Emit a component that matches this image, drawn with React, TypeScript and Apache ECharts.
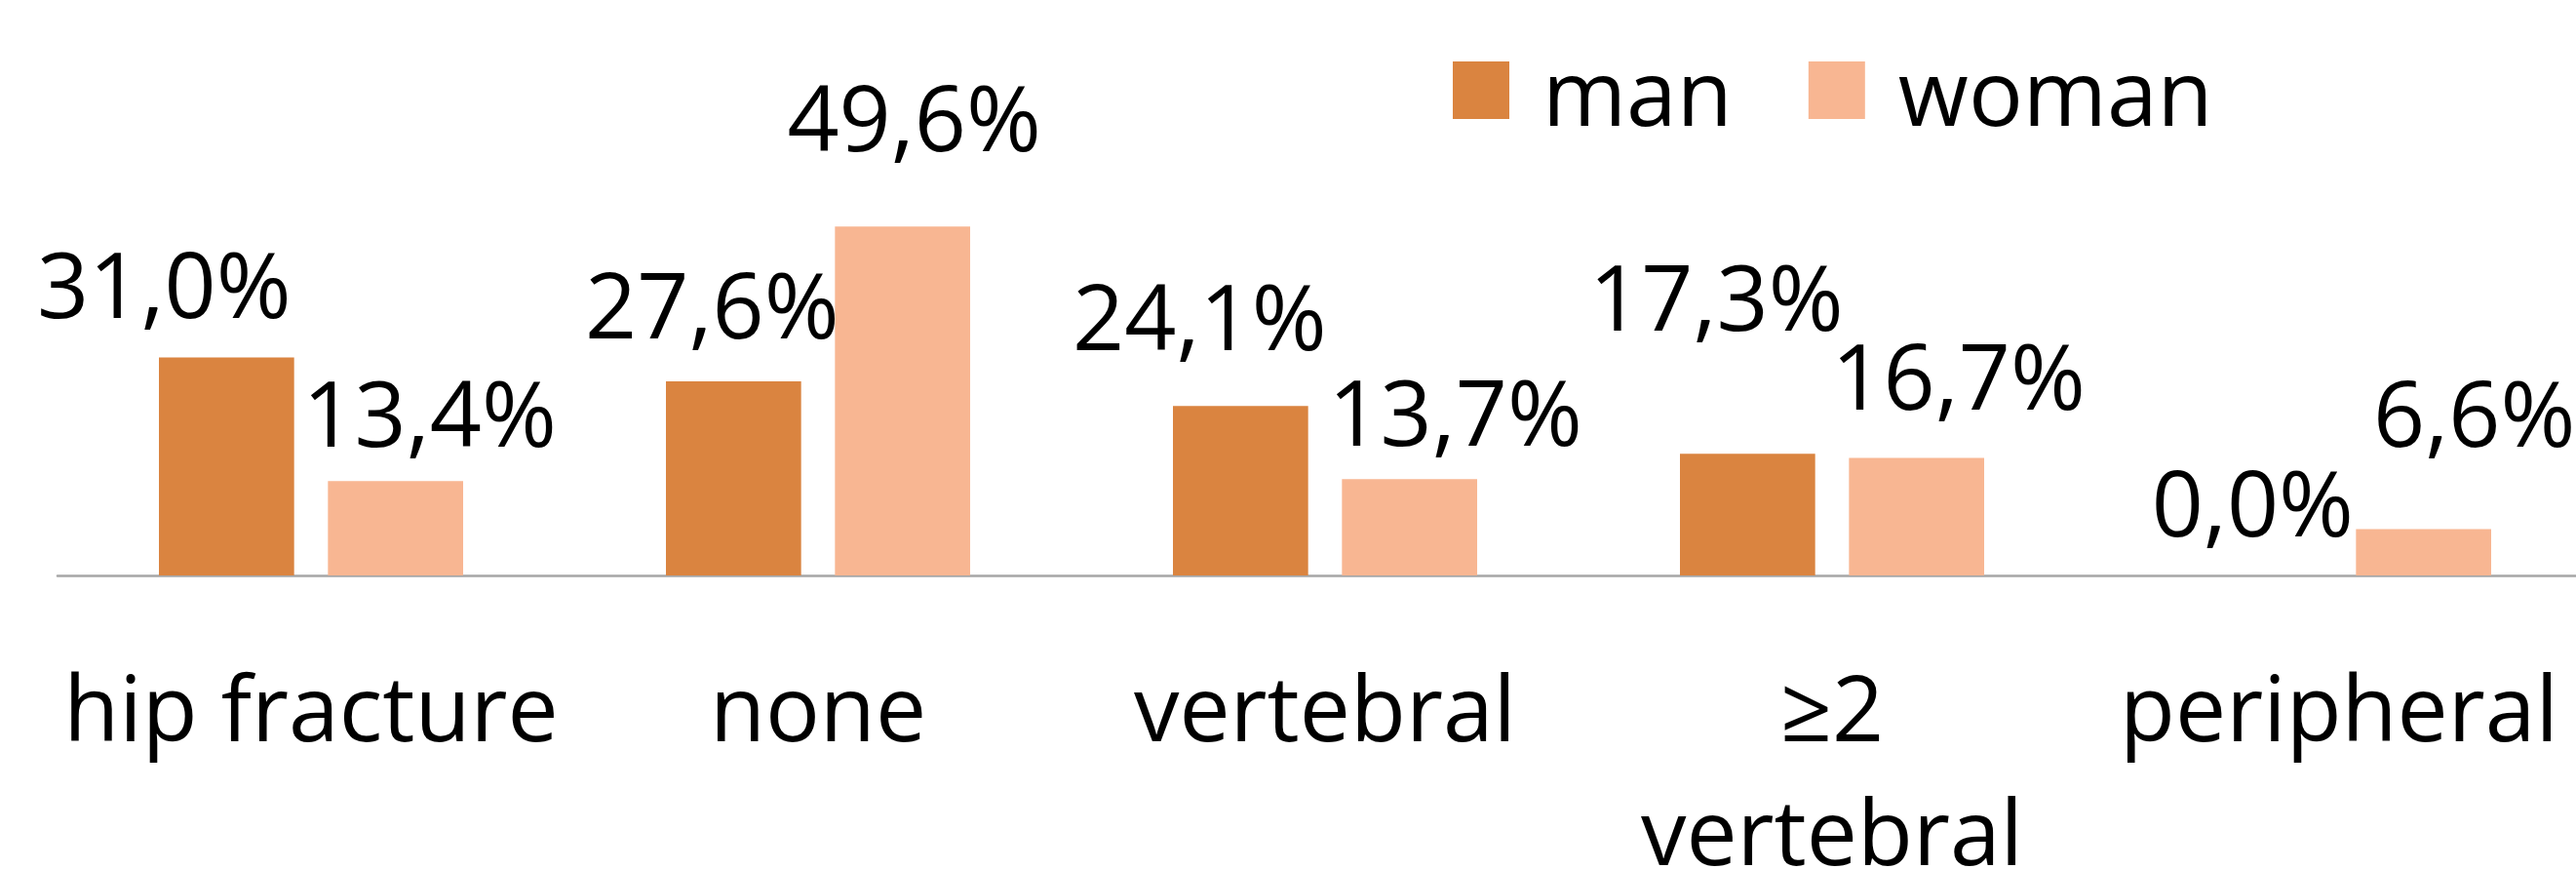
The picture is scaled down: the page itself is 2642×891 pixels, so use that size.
import React, { useEffect, useRef } from "react";
import * as echarts from "echarts";

const categories = ["hip fracture", "none", "vertebral", "≥2\nvertebral", "peripheral"];
const seriesNames = ["man", "woman"];
const manValues = [31.0, 27.6, 24.1, 17.3, 0.0];
const womanValues = [13.4, 49.6, 13.7, 16.7, 6.6];

// label placement tweaks (style only)
const manLabelOffsets = [[-64, -30], [-22, -33], [-42, -47], [-32, -116], [-2, -30]];
const womanLabelOffsets = [[35, -25], [12, -67], [47, -24], [43, -39], [52, -74]];

const FONT = "Open Sans";
const FS = 93;

const fmt = (v: number) => v.toFixed(1).replace(".", ",") + "%";

export default function App() {
  const ref = useRef<HTMLDivElement>(null);
  useEffect(() => {
    if (!ref.current) return;
    document.body.style.margin = "0";
    const chart = echarts.init(ref.current, null, { renderer: "svg" });
    const mk = (vals: number[], offs: number[][]) =>
      vals.map((v, i) => ({
        value: v,
        label: { offset: offs[i] },
      }));
    const labelCfg = {
      show: true,
      position: "top",
      distance: 0,
      fontFamily: FONT,
      fontSize: FS,
      color: "#000",
      formatter: (p: any) => fmt(p.value),
    };
    chart.setOption({
      animation: false,
      backgroundColor: "#fff",
      legend: {
        left: 1485,
        top: 41,
        itemWidth: 58,
        itemHeight: 59,
        itemGap: 78,
        icon: "rect",
        data: seriesNames,
        textStyle: { fontFamily: FONT, fontSize: FS, color: "#000", padding: [0, 0, 0, 29] },
      },
      grid: {
        left: 59,
        width: 2600,
        top: 13,
        bottom: 301,
        containLabel: false,
        outerBoundsMode: "none",
      },
      xAxis: {
        type: "category",
        data: categories,
        axisTick: { show: false },
        axisLine: { lineStyle: { color: "#a6a6a6", width: 2.5 } },
        axisLabel: {
          interval: 0,
          margin: 70,
          fontFamily: FONT,
          fontSize: FS,
          lineHeight: 127,
          color: "#000",
        },
      },
      yAxis: { type: "value", min: 0, max: 80, show: false, splitLine: { show: false } },
      series: [
        {
          name: seriesNames[0],
          type: "bar",
          data: mk(manValues, manLabelOffsets),
          itemStyle: { color: "#DA8440" },
          barGap: "25%",
          barCategoryGap: "40%",
          label: labelCfg,
        },
        {
          name: seriesNames[1],
          type: "bar",
          data: mk(womanValues, womanLabelOffsets),
          itemStyle: { color: "#F8B692" },
          barGap: "25%",
          barCategoryGap: "40%",
          label: labelCfg,
        },
      ],
    });
    return () => chart.dispose();
  }, []);
  return <div ref={ref} style={{ width: 2642, height: 891, background: "#fff" }} />;
}
